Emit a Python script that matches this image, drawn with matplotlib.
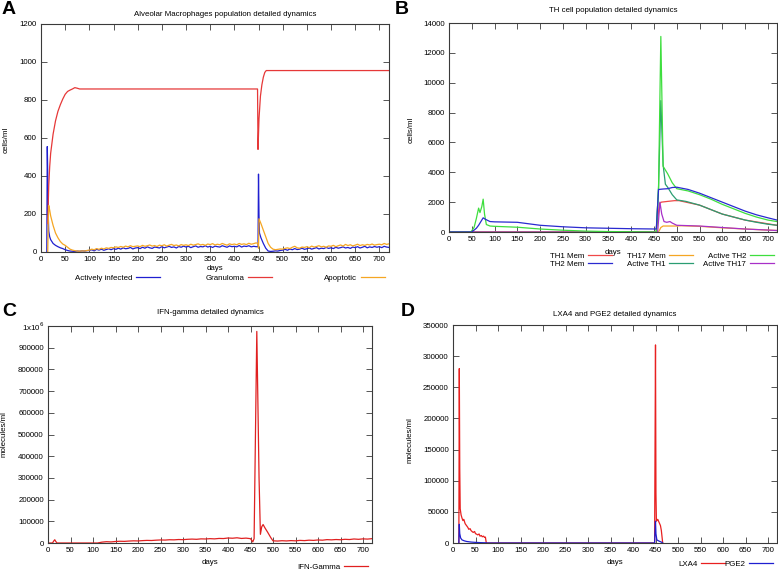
import numpy as np
import matplotlib
matplotlib.use("Agg")
import matplotlib.pyplot as plt
from matplotlib.ticker import FuncFormatter

plt.rcParams['font.family'] = ['Liberation Sans', 'DejaVu Sans']

W, H = 778, 571

# ---- panel A: alveolar macrophages ----
base_days = list(range(100, 450, 5))
post_days = list(range(500, 725, 5))

inf_days = [12, 13, 14, 15, 16, 18, 20, 25, 30, 35, 40, 45, 50, 55, 60, 65, 70, 75, 80, 85, 90, 95] \
    + base_days + [449, 450, 451, 452, 455, 460, 465, 470, 475, 480, 485, 490, 495] + post_days
inf_vals = [0, 555, 400, 200, 110, 80, 65, 45, 35, 28, 22, 18, 12, 8, 5, 4, 3, 5, 4, 6, 5, 7,
            8, 12, 6, 14, 10, 15, 9, 13, 17, 12,
            18, 14, 20, 15, 22, 17, 19, 24, 16, 21,
            23, 18, 25, 20, 27, 22, 19, 26, 24, 21,
            28, 22, 26, 30, 24, 27, 21, 29, 25, 31,
            26, 30, 23, 28, 32, 25, 29, 27, 33, 26,
            30, 24, 31, 28, 26, 33, 29, 25, 32, 28,
            30, 27, 34, 26, 31, 29, 33, 27, 30, 28,
            28, 410, 200, 100, 75, 45, 20, 5, 3, 4, 6, 5, 8,
            10, 14, 9, 16, 12, 18, 13, 15, 20, 14,
            17, 21, 15, 19, 23, 16, 20, 18, 24, 19,
            22, 18, 25, 20, 23, 27, 21, 24, 19, 26,
            23, 28, 21, 25, 30, 22, 27, 24, 29, 25,
            28, 23, 30, 26, 24]

apo_days = [14, 15, 16, 18, 20, 25, 30, 35, 40, 45, 50, 55, 60, 65, 70, 75, 80, 85, 90, 95] \
    + base_days + [449, 450, 451, 455, 460, 465, 470, 475, 480, 485, 490, 495] + post_days
apo_vals = [0, 150, 245, 220, 190, 140, 100, 75, 55, 42, 35, 25, 15, 10, 7, 5, 4, 6, 5, 8,
            10, 15, 12, 18, 14, 20, 16, 22, 19, 24,
            22, 27, 24, 29, 25, 31, 27, 33, 28, 30,
            32, 28, 35, 30, 33, 37, 31, 34, 29, 36,
            33, 38, 31, 36, 40, 34, 37, 32, 39, 35,
            38, 34, 41, 36, 39, 43, 37, 40, 35, 42,
            39, 44, 37, 41, 38, 45, 40, 36, 43, 39,
            42, 38, 45, 40, 43, 39, 46, 41, 44, 48,
            45, 20, 175, 150, 115, 80, 45, 25, 15, 12, 14, 16,
            15, 19, 22, 18, 25, 30, 22, 20, 26, 24,
            28, 23, 31, 26, 29, 33, 27, 30, 25, 32,
            30, 35, 28, 33, 37, 31, 40, 34, 38, 32,
            36, 41, 34, 38, 35, 40, 37, 42, 36, 39,
            41, 38, 45, 40, 43]

gran_days = [14, 16, 18, 20, 25, 30, 35, 40, 45, 50, 55, 60, 65, 70, 75, 80, 85,
             448, 449, 451, 454, 457, 460, 463, 466, 720]
gran_vals = [150, 350, 450, 520, 620, 690, 740, 775, 805, 830, 845, 852, 858, 865, 862, 858, 858,
             858, 540, 700, 820, 880, 920, 945, 955, 955]

# ---- panel B: TH cells ----
th2mem_days = [0, 50, 60, 65, 70, 75, 80, 90, 100, 150, 175, 200, 250, 300, 350, 400, 455, 460,
               470, 480, 490, 500, 525, 550, 575, 600, 625, 650, 675, 700, 720]
th2mem_vals = [0, 0, 250, 450, 700, 950, 850, 700, 680, 650, 550, 450, 350, 280, 250, 220, 200, 2850,
               2880, 2900, 2980, 3000, 2850, 2600, 2300, 2000, 1700, 1400, 1150, 950, 800]

th1mem_days = [455, 462, 466, 480, 495, 505, 550, 600, 650, 700, 720]
th1mem_vals = [0, 1900, 2000, 2050, 2100, 2100, 1800, 1200, 800, 550, 450]

th17mem_days = [0, 460, 465, 470, 500, 510, 550, 600, 650, 720]
th17mem_vals = [0, 0, 300, 400, 400, 420, 380, 280, 200, 100]

act1_days = [0, 455, 460, 465, 470, 475, 480, 490, 500, 520, 550, 575, 600, 625, 650, 675, 700, 720]
act1_vals = [0, 0, 3000, 8800, 4500, 3200, 3000, 2500, 2150, 2050, 1800, 1500, 1200, 1000, 800, 650, 520, 450]

act2_days = [0, 48, 55, 60, 65, 68, 72, 75, 78, 82, 90, 100, 150, 200, 250, 300, 350, 400, 455, 460,
             465, 470, 480, 490, 500, 525, 550, 575, 600, 625, 650, 675, 700, 720]
act2_vals = [0, 0, 300, 900, 1600, 1300, 1700, 2200, 1200, 500, 400, 380, 320, 200, 120, 60, 30, 15, 0, 3000,
             13100, 4400, 3900, 3300, 2900, 2750, 2500, 2200, 1850, 1550, 1250, 1000, 800, 700]

act17_days = [0, 458, 463, 467, 472, 478, 485, 490, 500, 550, 600, 650, 700, 720]
act17_vals = [0, 0, 2000, 1200, 700, 650, 700, 600, 450, 400, 300, 200, 130, 100]

# ---- panel C: IFN-gamma ----
ifn_days = [0, 10, 13, 15, 17, 20, 110] + list(range(120, 460, 10)) \
    + [455, 458, 464, 469, 472, 475, 478, 482, 488, 495] + list(range(500, 730, 10))
ifn_vals = [0, 0, 10000, 15000, 8000, 0, 0,
            4000, 6000, 5000, 7000, 8000, 7500, 9000, 10000, 9500, 11000,
            12000, 11500, 13000, 14000, 13500, 15000, 14500, 16000, 15500, 17000,
            18000, 17000, 19000, 18500, 20000, 19000, 21000, 20500, 23000, 22000,
            24000, 21000, 22500, 20000,
            5000, 20000, 975000, 300000, 40000, 75000, 85000, 70000, 50000, 25000,
            10000, 9000, 10500, 9500, 11000, 10000, 12000, 11000, 13000, 12000,
            14000, 13000, 15500, 14500, 16000, 15000, 17000, 16000, 18500, 17000,
            19000, 18000, 20000]

# ---- panel D: LXA4 and PGE2 ----
lxa4_days = [13, 14, 15, 16, 18, 20, 22, 24, 27, 30, 33, 35, 38, 40, 43, 45, 48, 50, 53, 55,
             58, 60, 63, 65, 68, 70, 72, 74, 448, 450, 451, 452, 455, 458, 461, 463, 466]
lxa4_vals = [0, 280000, 120000, 55000, 45000, 40000, 36000, 38000, 31000, 28000, 25000, 22000, 23000,
             20000, 18000, 17000, 18500, 15000, 14000, 13000, 14500, 11000, 12000, 10000, 11000, 9000,
             9500, 0, 0, 318000, 80000, 35000, 38000, 33000, 28000, 20000, 0]

pge2_days = [13, 14, 15, 17, 20, 25, 30, 40, 50, 60, 74, 75, 448, 450, 451, 453, 458, 463, 466]
pge2_vals = [0, 30000, 15000, 8000, 5000, 3500, 2500, 1500, 1000, 600, 300, 0, 0, 35000, 15000, 5000,
             3000, 1500, 0]

FS = 5.7
FRAME = '#3a3a3a'


def make_axes(left, top, right, bottom):
    ax = plt.gcf().add_axes([left / W, 1 - bottom / H, (right - left) / W, (bottom - top) / H])
    for s in ax.spines.values():
        s.set_color(FRAME)
        s.set_linewidth(0.8)
    ax.tick_params(direction='in', top=True, right=True, length=4, width=0.6,
                   color=FRAME, labelsize=FS, pad=3)
    ax.set_xlim(0, 720)
    ax.set_xticks(np.arange(0, 701, 50))
    return ax


def fig_text(x, y, s, **kw):
    plt.gcf().text(x / W, 1 - y / H, s, **kw)


def key(handles, labels, x, y):
    plt.gcf().legend(handles, labels, loc='center right', bbox_to_anchor=(x / W, 1 - y / H),
                     frameon=False, markerfirst=False, fontsize=FS, handlelength=3.0,
                     handletextpad=0.5, borderpad=0, borderaxespad=0, labelspacing=0.05)


fig = plt.figure(figsize=(W / 100, H / 100), dpi=100)

# A
ax = make_axes(41, 24, 389, 252)
l_inf, = ax.plot(inf_days, inf_vals, color='#1f1fd0', lw=0.9)
l_gran, = ax.plot(gran_days, gran_vals, color='#e63838', lw=0.9)
l_apo, = ax.plot(apo_days, apo_vals, color='#f5a623', lw=0.9)
ax.set_ylim(0, 1200)
ax.set_yticks(np.arange(0, 1201, 200))
fig_text(225, 15, 'Alveolar Macrophages population detailed dynamics', fontsize=FS, ha='center', va='center')
fig_text(6, 140, 'cells/ml', fontsize=FS, rotation=90, ha='center', va='center')
fig_text(215, 268, 'days', fontsize=FS, ha='center', va='center')
key([l_inf], ['Actively infected'], 160, 278)
key([l_gran], ['Granuloma'], 272, 278)
key([l_apo], ['Apoptotic'], 385, 278)
fig_text(2, 9, 'A', fontsize=14, fontweight='bold', ha='left', va='center')

# B
ax = make_axes(449, 23, 777, 232)
b1, = ax.plot(th1mem_days, th1mem_vals, color='#f04848', lw=0.9)
b4, = ax.plot(act1_days, act1_vals, color='#2a9d72', lw=0.9)
b3, = ax.plot(th17mem_days, th17mem_vals, color='#f5a623', lw=0.9)
b6, = ax.plot(act17_days, act17_vals, color='#a830c8', lw=0.9)
b5, = ax.plot(act2_days, act2_vals, color='#3ede3e', lw=0.9)
b2, = ax.plot(th2mem_days, th2mem_vals, color='#2a2ad0', lw=0.9)
ax.set_ylim(0, 14000)
ax.set_yticks(np.arange(0, 14001, 2000))
fig_text(613, 10, 'TH cell population detailed dynamics', fontsize=FS, ha='center', va='center')
fig_text(411, 130, 'cells/ml', fontsize=FS, rotation=90, ha='center', va='center')
fig_text(613, 253, 'days', fontsize=FS, ha='center', va='center')
key([b1, b2], ['TH1 Mem', 'TH2 Mem'], 612, 260)
key([b3, b4], ['TH17 Mem', 'Active TH1'], 693, 260)
key([b5, b6], ['Active TH2', 'Active TH17'], 774, 260)
fig_text(395, 9, 'B', fontsize=14, fontweight='bold', ha='left', va='center')

# C
ax = make_axes(48, 326, 372, 543)
c1, = ax.plot(ifn_days, ifn_vals, color='#e02020', lw=0.9)
ax.set_ylim(0, 1000000)
ax.set_yticks(np.arange(0, 1000001, 100000))
ax.yaxis.set_major_formatter(FuncFormatter(lambda v, p: r'1x10$^6$' if v >= 1e6 else '%d' % v))
fig_text(210, 313, 'IFN-gamma detailed dynamics', fontsize=FS, ha='center', va='center')
fig_text(4, 434, 'molecules/ml', fontsize=FS, rotation=90, ha='center', va='center')
fig_text(210, 563, 'days', fontsize=FS, ha='center', va='center')
key([c1], ['IFN-Gamma'], 368, 567)
fig_text(2, 311, 'C', fontsize=14, fontweight='bold', ha='left', va='center')

# D
ax = make_axes(453, 325, 777, 543)
d1, = ax.plot(lxa4_days, lxa4_vals, color='#e82020', lw=0.9)
d2, = ax.plot(pge2_days, pge2_vals, color='#1f1fd0', lw=0.9)
ax.set_ylim(0, 350000)
ax.set_yticks(np.arange(0, 350001, 50000))
fig_text(615, 314, 'LXA4 and PGE2 detailed dynamics', fontsize=FS, ha='center', va='center')
fig_text(410, 440, 'molecules/ml', fontsize=FS, rotation=90, ha='center', va='center')
fig_text(615, 562, 'days', fontsize=FS, ha='center', va='center')
key([d1], ['LXA4'], 725, 564)
key([d2], ['PGE2'], 773, 564)
fig_text(401, 311, 'D', fontsize=14, fontweight='bold', ha='left', va='center')

fig.savefig('out.png', dpi=100)
